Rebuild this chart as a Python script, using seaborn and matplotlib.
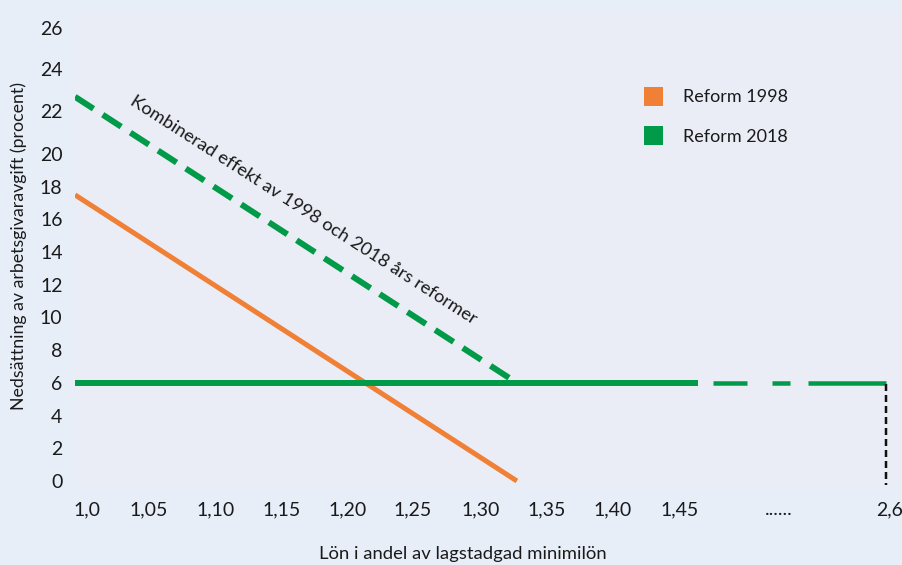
import numpy as np
import matplotlib
matplotlib.use("Agg")
import matplotlib.pyplot as plt
import seaborn as sns
from matplotlib.lines import Line2D

# ---------------- data ----------------
reform1998_x = [1.0, 1.33]
reform1998_y = [17.5, 0.0]
combined_x = [1.0, 1.33]
combined_y = [23.5, 6.0]
reform2018_solid_x = [1.0, 1.465]
reform2018_solid_y = [6.0, 6.0]
reform2018_ext_x = [1.465, 2.6]
reform2018_ext_y = [6.0, 6.0]
end_x = 2.6
end_y = 6.0

x_tick_labels = ["1,0", "1,05", "1,10", "1,15", "1,20", "1,25", "1,30",
                 "1,35", "1,40", "1,45", "......", "2,6"]
y_tick_labels = [str(v) for v in range(0, 27, 2)]
legend_labels = ["Reform 1998", "Reform 2018"]
annotation_text = "Kombinerad effekt av 1998 och 2018 års reformer"
x_label = "Lön i andel av lagstadgad minimilön"
y_label = "Nedsättning av arbetsgivaravgift (procent)"

# ---------------- layout / style ----------------
x_tick_pos = [1.009, 1.0553, 1.1053, 1.1546, 1.2039, 1.2524, 1.3032,
              1.3525, 1.4018, 1.4518, 1.5258, 1.6087]
y_tick_pos = [0, 2, 4, 6, 8, 10, 12, 14, 16, 18, 20, 22.6, 25.2, 27.7]

BREAK = 1.5
K = 0.0958


def pos(v):
    v = np.asarray(v, dtype=float)
    return np.where(v <= BREAK, v, BREAK + (v - BREAK) * K)


ORANGE = "#F08036"
GREEN = "#009A48"
FIG_BG = "#E7EEF8"
AX_BG = "#EAEDF5"
TXT = "#1A1A1A"

sns.set_style("white")
plt.rcParams["font.family"] = ["Lato", "DejaVu Sans"]
plt.rcParams["lines.scale_dashes"] = False

fig = plt.figure(figsize=(9.03, 5.65), dpi=100, facecolor=FIG_BG)
ax = fig.add_axes([75 / 903, 80 / 565, 828 / 903, 473 / 565])
ax.set_facecolor(AX_BG)

px = 0.72  # points per pixel at 100 dpi

sns.lineplot(x=pos(reform1998_x), y=reform1998_y, ax=ax, color=ORANGE,
             linewidth=5 * px, solid_capstyle="butt")
sns.lineplot(x=pos(combined_x), y=combined_y, ax=ax, color=GREEN,
             linewidth=6 * px, dash_capstyle="butt",
             linestyle=(0, (22 * px, 11 * px)))
sns.lineplot(x=pos(reform2018_solid_x), y=reform2018_solid_y, ax=ax,
             color=GREEN, linewidth=6 * px, solid_capstyle="butt")
pattern = [34, 25, 18, 18, 90, 15]
sns.lineplot(x=pos(reform2018_ext_x), y=reform2018_ext_y, ax=ax,
             color=GREEN, linewidth=4.5 * px, dash_capstyle="butt",
             linestyle=(sum(pattern[:5]) * px, tuple(p * px for p in pattern)))

ymin, ymax = -0.245, 28.685
ax.vlines(pos(end_x), ymin, end_y, colors="#111111", linewidth=2.5 * px,
          linestyles=[(5 * px, (7 * px, 4 * px))])

ax.set_xlim(1.0, 1.0 + 828 / 1339)
ax.set_ylim(ymin, ymax)

ax.set_xticks(x_tick_pos)
ax.set_xticklabels(x_tick_labels)
ax.set_yticks(y_tick_pos)
ax.set_yticklabels(y_tick_labels)
ax.tick_params(axis="both", length=0, labelsize=14, colors=TXT)
ax.tick_params(axis="x", pad=11.5)
ax.tick_params(axis="y", pad=9)
for s in ax.spines.values():
    s.set_visible(False)
ax.grid(False)

ax.set_xlabel(x_label, fontsize=13.3, color=TXT)
ax.xaxis.set_label_coords((463 - 75) / 828, (485 - 546) / 473)
ax.set_ylabel(y_label, fontsize=12.8, color=TXT)
ax.yaxis.set_label_coords((27 - 75) / 828, (485 - 246) / 473)

ax.text(1.1703, 16.57, annotation_text, rotation=-32.7, rotation_mode="anchor",
        ha="center", va="center", fontsize=13.2, color=TXT)

handles = [Line2D([], [], marker="s", linestyle="none", markersize=19 * px,
                  markeredgewidth=0, color=c) for c in (ORANGE, GREEN)]
fig.legend(handles, legend_labels, loc="center left",
           bbox_to_anchor=(643.5 / 903, 1 - 117 / 565),
           bbox_transform=fig.transFigure, frameon=False, fontsize=13,
           borderpad=0, borderaxespad=0, handlelength=1.0,
           handletextpad=1.19, labelspacing=1.28, labelcolor=TXT)

fig.savefig("out.png", dpi=100, facecolor=FIG_BG)
